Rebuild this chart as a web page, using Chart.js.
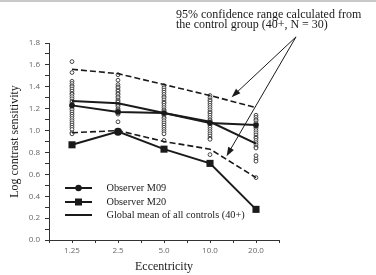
<!DOCTYPE html>
<html>
<head>
<meta charset="utf-8">
<script src="https://cdn.jsdelivr.net/npm/chart.js@4.4.1/dist/chart.umd.min.js"></script>
<style>
  html, body { margin: 0; padding: 0; background: #fff; }
  #wrap { width: 376px; height: 275px; position: relative; box-sizing: border-box; border-top: 2px solid #c8c8c8; }
</style>
</head>
<body>
<div id="wrap"><canvas id="chart" width="376" height="273"></canvas></div>
<script>
// x 축 범주 (eccentricity)
const ECCENTRICITY = ['1.25', '2.5', '5.0', '10.0', '20.0'];
const Y_LABELS     = ['0.0', '0.2', '0.4', '0.6', '0.8', '1.0', '1.2', '1.4', '1.6', '1.8'];

// observers
const M09  = [1.23, 1.17, 1.16, 1.07, 1.05];
const M20  = [0.87, 0.99, 0.83, 0.70, 0.28];
const MEAN = [1.27, 1.25, 1.16, 1.08, 0.88];

// 95% confidence range of the controls
const CI_UPPER = [1.56, 1.52, 1.42, 1.32, 1.21];
const CI_LOWER = [0.98, 1.00, 0.90, 0.83, 0.57];

// single controls, one list per eccentricity
const CTRL_125  = [1.63, 1.53, 1.45, 1.43, 1.41, 1.40, 1.38, 1.36, 1.34, 1.33, 1.31, 1.29, 1.27, 1.26, 1.24,
                   1.22, 1.20, 1.19, 1.17, 1.15, 1.13, 1.11, 1.09, 1.07, 1.05, 1.03, 1.01, 0.98, 0.97];
const CTRL_250  = [1.51, 1.46, 1.42, 1.40, 1.39, 1.37, 1.36, 1.34, 1.33, 1.31, 1.30, 1.28, 1.27, 1.26, 1.24,
                   1.23, 1.22, 1.20, 1.19, 1.18, 1.17, 1.16, 1.15, 1.08];
const CTRL_500  = [1.41, 1.39, 1.37, 1.35, 1.33, 1.31, 1.30, 1.28, 1.26, 1.25, 1.23, 1.21, 1.19, 1.18, 1.16,
                   1.14, 1.12, 1.11, 1.09, 1.07, 1.05, 1.03, 1.01, 0.99, 0.97, 0.91];
const CTRL_1000 = [1.32, 1.30, 1.28, 1.27, 1.25, 1.23, 1.21, 1.19, 1.17, 1.16, 1.14, 1.12, 1.10, 1.09, 1.07,
                   1.05, 1.03, 1.01, 0.99, 0.97, 0.95, 0.93, 0.92, 0.78];
const CTRL_2000 = [1.14, 1.12, 1.10, 1.09, 1.07, 1.05, 1.03, 1.02, 1.00, 0.98, 0.96, 0.94, 0.93, 0.91, 0.89,
                   0.87, 0.85, 0.84, 0.77, 0.74, 0.72, 0.57];
const CONTROLS  = [CTRL_125, CTRL_250, CTRL_500, CTRL_1000, CTRL_2000];

// annotation text + arrows (data space: x = category index + 1)
const NOTE_LINES   = ['95% confidence range calculated from', 'the control group (40+, N = 30)'];
const ARROW_FROM   = [5.87, 1.856];
const ARROW_TIPS   = [[4.47, 1.305], [4.36, 0.766]];
const LEGEND_ITEMS = ['Observer M09', 'Observer M20', 'Global mean of all controls (40+)'];

const SERIF = '"Liberation Serif", "Times New Roman", serif';
const INK   = '#1a1a1a';

const toXY = arr => arr.map((v, i) => ({ x: i + 1, y: v }));

const controlPoints = [];
CONTROLS.forEach((list, i) => list.forEach(v => controlPoints.push({ x: i + 1, y: v })));

function arrow(ctx, x0, y0, x1, y1) {
    const a = Math.atan2(y1 - y0, x1 - x0);
    const len = 9, half = 3.2;
    ctx.beginPath();
    ctx.moveTo(x0, y0);
    ctx.lineTo(x1 - Math.cos(a) * len * 0.8, y1 - Math.sin(a) * len * 0.8);
    ctx.stroke();
    ctx.beginPath();
    ctx.moveTo(x1, y1);
    ctx.lineTo(x1 - Math.cos(a) * len + Math.sin(a) * half, y1 - Math.sin(a) * len - Math.cos(a) * half);
    ctx.lineTo(x1 - Math.cos(a) * len - Math.sin(a) * half, y1 - Math.sin(a) * len + Math.cos(a) * half);
    ctx.closePath();
    ctx.fill();
}

// ── 주석 / 범례 플러그인 ─────────────────────────────
const extras = {
    id: 'extras',
    afterDatasetsDraw(chart) {
        const { ctx, scales: { x, y } } = chart;
        ctx.save();
        ctx.fillStyle = INK;
        ctx.strokeStyle = INK;

        // note
        ctx.font = '12px ' + SERIF;
        ctx.textBaseline = 'middle';
        ctx.textAlign = 'left';
        ctx.fillText(NOTE_LINES[0], 176, 13);
        ctx.fillText(NOTE_LINES[1], 176, 23);

        // arrows
        ctx.lineWidth = 1;
        const fx = x.getPixelForValue(ARROW_FROM[0]);
        const fy = y.getPixelForValue(ARROW_FROM[1]);
        ARROW_TIPS.forEach(t => arrow(ctx, fx, fy, x.getPixelForValue(t[0]), y.getPixelForValue(t[1])));

        // legend
        const lx0 = 65, lx1 = 92, mx = 78.5;
        const rows = [186, 200, 213];
        ctx.lineWidth = 2;
        rows.forEach((ry, i) => {
            ctx.beginPath();
            ctx.moveTo(lx0, ry);
            ctx.lineTo(lx1, ry);
            ctx.stroke();
            if (i === 0) {
                ctx.beginPath();
                ctx.arc(mx, ry, 3.2, 0, Math.PI * 2);
                ctx.fill();
            } else if (i === 1) {
                ctx.fillRect(mx - 3.5, ry - 3.5, 7, 7);
            }
            ctx.font = '10.3px ' + SERIF;
            ctx.fillText(LEGEND_ITEMS[i], 106.5, ry + 0.5);
        });
        ctx.restore();
    }
};

const axisTitle = (text, padding) => ({
    display: true, text, color: INK, padding,
    font: { family: SERIF, size: 12 },
});

new Chart(document.getElementById('chart'), {
    type: 'line',
    data: {
        datasets: [
            {
                label: 'Observer M20', data: toXY(M20),
                borderColor: INK, backgroundColor: INK, borderWidth: 2,
                pointStyle: ['rect', 'circle', 'rect', 'rect', 'rect'],
                pointRadius: [5, 4, 5, 5, 5], pointBorderWidth: 0,
            },
            {
                label: 'Observer M09', data: toXY(M09),
                borderColor: INK, backgroundColor: INK, borderWidth: 2,
                pointStyle: 'circle', pointRadius: 2.8, pointBorderWidth: 0,
            },
            {
                label: 'Global mean of all controls (40+)', data: toXY(MEAN),
                borderColor: INK, borderWidth: 2, pointRadius: 0,
            },
            {
                label: '95% upper', data: toXY(CI_UPPER),
                borderColor: INK, borderWidth: 1.6, borderDash: [6, 3], pointRadius: 0,
            },
            {
                label: '95% lower', data: toXY(CI_LOWER),
                borderColor: INK, borderWidth: 1.6, borderDash: [6, 3], pointRadius: 0,
            },
            {
                label: 'controls', data: controlPoints, showLine: false,
                pointStyle: 'circle', pointRadius: 1.9, pointBorderWidth: 0.9,
                pointBorderColor: '#333', pointBackgroundColor: '#fff',
            },
        ],
    },
    options: {
        responsive: false,
        animation: false,
        events: [],
        layout: { padding: { top: 41, right: 97, left: 0, bottom: 0 } },
        plugins: { legend: { display: false }, tooltip: { enabled: false } },
        scales: {
            x: {
                type: 'linear', min: 0.5, max: 5.5,
                afterFit: s => { s.height = 35; },
                grid: { drawOnChartArea: false, color: '#333', tickLength: 3 },
                border: { color: '#333', width: 1 },
                ticks: {
                    stepSize: 0.5, autoSkip: false, maxRotation: 0, padding: 3,
                    color: '#666', font: { family: '"Open Sans"', size: 8 },
                    callback: v => Number.isInteger(v) ? ECCENTRICITY[v - 1] : '',
                },
                title: axisTitle('Eccentricity', { top: 0, bottom: 1 }),
            },
            y: {
                min: 0, max: 1.8,
                afterFit: s => { s.width = 49; },
                grid: { drawOnChartArea: false, color: '#333', tickLength: 4 },
                border: { color: '#333', width: 1 },
                ticks: {
                    stepSize: 0.1, autoSkip: false, padding: 5,
                    color: '#666', font: { family: '"Open Sans"', size: 8 },
                    callback: v => {
                        const s = Number(v).toFixed(1);
                        return Y_LABELS.includes(s) ? s : '';
                    },
                },
                title: axisTitle('Log contrast sensitivity', { top: 8, bottom: 0 }),
            },
        },
    },
    plugins: [extras],
});
</script>
</body>
</html>
